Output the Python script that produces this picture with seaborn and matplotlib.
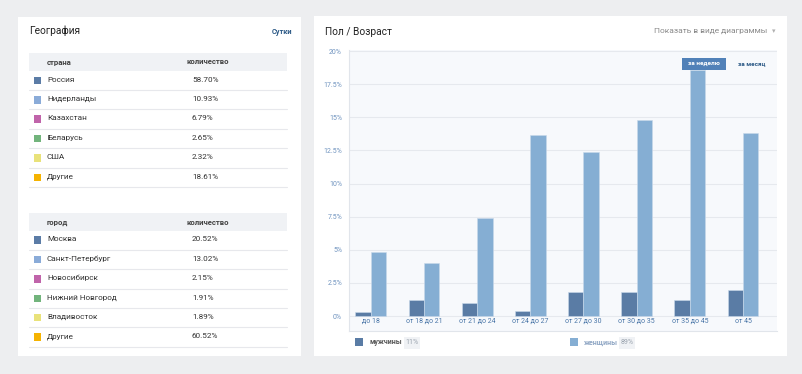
import matplotlib as mpl
mpl.use('Agg')
import matplotlib.pyplot as plt
from matplotlib.patches import Rectangle
from matplotlib.lines import Line2D
import numpy as np
import pandas as pd
import seaborn as sns

# data
countries = ['Россия', 'Нидерланды', 'Казахстан', 'Беларусь', 'США', 'Другие']
country_share = ['58.70%', '10.93%', '6.79%', '2.65%', '2.32%', '18.61%']
cities = ['Москва', 'Санкт-Петербург', 'Новосибирск', 'Нижний Новгород', 'Владивосток', 'Другие']
city_share = ['20.52%', '13.02%', '2.15%', '1.91%', '1.89%', '60.52%']
geo_colors = ['#5b7ca6', '#8aabd8', '#c064aa', '#72b47c', '#e9e27a', '#f5b301']

age_groups = ['до 18', 'от 18 до 21', 'от 21 до 24', 'от 24 до 27',
              'от 27 до 30', 'от 30 до 35', 'от 35 до 45', 'от 45']
men = [0.3, 1.2, 1.0, 0.4, 1.8, 1.8, 1.2, 2.0]
women = [4.8, 4.0, 7.4, 13.7, 12.4, 14.8, 18.6, 13.85]
sex_labels = ['мужчины', 'женщины']
sex_totals = ['11%', '89%']
sex_colors = ['#5a7ca5', '#85aed3']
y_ticks = [0, 2.5, 5, 7.5, 10, 12.5, 15, 17.5, 20]
y_ticklabels = ['0%', '2.5%', '5%', '7.5%', '10%', '12.5%', '15%', '17.5%', '20%']

W, H = 803, 374


def fx(x):
    return x / W


def fy(y):
    return 1 - y / H


sns.set_theme(style='white')
plt.rcParams['font.family'] = ['Roboto', 'DejaVu Sans']

fig = plt.figure(figsize=(W / 100, H / 100), dpi=100)
fig.patch.set_facecolor('#edeef0')

# panels
for x0, y0, x1, y1 in [(18, 17, 301, 356), (314, 16, 787, 356)]:
    fig.add_artist(Rectangle((fx(x0), fy(y1)), (x1 - x0) / W, (y1 - y0) / H,
                             transform=fig.transFigure, facecolor='white',
                             edgecolor='none', zorder=-10))

# left panel: geography tables
fig.text(fx(29), fy(31), 'География', fontsize=7.3, color='#222222', va='center')
fig.text(fx(292), fy(32), 'Сутки', fontsize=5.3, color='#2a5885',
         weight='bold', va='center', ha='right')


def draw_table(head_top, head_bottom, head_label, names, shares):
    fig.add_artist(Rectangle((fx(29), fy(head_bottom)), (287 - 29) / W,
                             (head_bottom - head_top) / H, transform=fig.transFigure,
                             facecolor='#f0f2f5', edgecolor='none', zorder=-5))
    mid = (head_top + head_bottom) / 2
    fig.text(fx(47), fy(mid), head_label, fontsize=5.6, weight='bold',
             color='#444444', va='center')
    fig.text(fx(187), fy(mid), 'количество', fontsize=5.6, weight='bold',
             color='#444444', va='center')
    pitch = 19.4
    for i, (name, share) in enumerate(zip(names, shares)):
        yc = head_bottom + 8.6 + i * pitch
        fig.add_artist(Rectangle((fx(34), fy(yc + 4.5)), 7.5 / W, 7.5 / H,
                                 transform=fig.transFigure, facecolor=geo_colors[i],
                                 edgecolor='none'))
        fig.text(fx(47), fy(yc), name, fontsize=5.9, color='#333333', va='center')
        fig.text(fx(192), fy(yc), share, fontsize=5.9, color='#333333', va='center')
        ys = head_bottom + (i + 1) * pitch - 0.4
        fig.add_artist(Line2D([fx(29), fx(287)], [fy(ys), fy(ys)],
                              transform=fig.transFigure, color='#e7e8ec', lw=0.8))


draw_table(53, 71, 'страна', countries, country_share)
draw_table(213.3, 230.7, 'город', cities, city_share)

# right panel: sex / age chart
fig.text(fx(325), fy(32), 'Пол / Возраст', fontsize=7.3, color='#222222', va='center')
fig.text(fx(767), fy(31), 'Показать в виде диаграммы', fontsize=6.0,
         color='#8a8a8a', va='center', ha='right')
fig.text(fx(774), fy(31.5), '▾', fontsize=5, color='#b0b0b0', va='center',
         ha='center', family='DejaVu Sans')

df = pd.DataFrame({
    'age': age_groups * 2,
    'value': men + women,
    'sex': [sex_labels[0]] * len(men) + [sex_labels[1]] * len(women),
})

ax = fig.add_axes([fx(349), fy(331), (777 - 349) / W, (331 - 50) / H])
ax.set_facecolor('#f7f9fc')
sns.barplot(data=df, x='age', y='value', hue='sex', order=age_groups,
            hue_order=sex_labels, palette=sex_colors, saturation=1,
            width=0.58, gap=0, edgecolor='#c9d9ea', linewidth=0.4,
            legend=False, ax=ax, zorder=3)
ax.set_xlim(-0.41, 7.64)
ax.set_ylim(-1.13, 20.08)
ax.set_yticks(y_ticks)
ax.set_yticklabels(y_ticklabels)
for yv in y_ticks:
    ax.axhline(yv, color='#e6e9ee', lw=0.8, zorder=1)
ax.set_xlabel('')
ax.set_ylabel('')
ax.tick_params(axis='y', length=0, pad=5, labelsize=5.0, labelcolor='#6f93bf')
ax.tick_params(axis='x', length=0, pad=-9.5, labelsize=5.0, labelcolor='#4a76a8')
for s in ['top', 'right']:
    ax.spines[s].set_visible(False)
for s in ['left', 'bottom']:
    ax.spines[s].set_color('#e1e5eb')
    ax.spines[s].set_linewidth(0.8)

# week / month switch
fig.add_artist(Rectangle((fx(682), fy(69.5)), 44 / W, 11.5 / H,
                         transform=fig.transFigure, facecolor='#5181b8',
                         edgecolor='none', zorder=5))
fig.text(fx(704), fy(63.5), 'за неделю', fontsize=4.6, weight='bold',
         color='white', ha='center', va='center', zorder=6)
fig.text(fx(752), fy(63.5), 'за месяц', fontsize=4.6, weight='bold',
         color='#2a5885', ha='center', va='center', zorder=6)

# legend
for (sq_x, lab_x, badge_x), lab, tot, col, tcol in zip(
        [(355.5, 370, 404), (570, 584, 619.5)], sex_labels, sex_totals,
        sex_colors, ['#555555', '#8fa6c4']):
    fig.add_artist(Rectangle((fx(sq_x), fy(346)), 8 / W, 8 / H,
                             transform=fig.transFigure, facecolor=col, edgecolor='none'))
    fig.text(fx(lab_x), fy(342.5), lab, fontsize=5.0, weight='bold',
             color=tcol, va='center')
    fig.add_artist(Rectangle((fx(badge_x), fy(348.5)), 16 / W, 12 / H,
                             transform=fig.transFigure, facecolor='#f0f2f5',
                             edgecolor='none'))
    fig.text(fx(badge_x + 8), fy(342.5), tot, fontsize=5.0, color='#9aa3ae',
             va='center', ha='center')

fig.savefig('out.png', dpi=100, facecolor=fig.get_facecolor())
